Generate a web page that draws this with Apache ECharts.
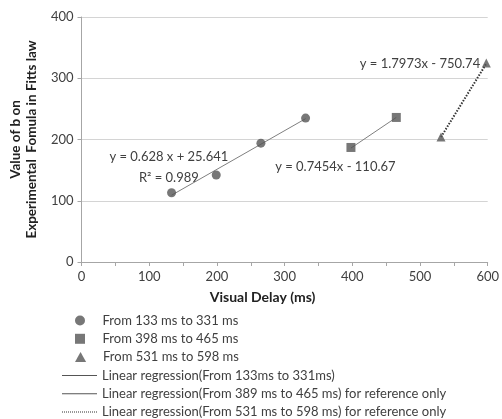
<!DOCTYPE html>
<html>
<head>
<meta charset="utf-8">
<script src="https://cdn.jsdelivr.net/npm/echarts@6/dist/echarts.min.js"></script>
<style>
  html, body { margin: 0; padding: 0; background: #fff; }
  #chart { width: 502px; height: 419px; }
</style>
</head>
<body>
<div id="chart"></div>
<script>
var chart = echarts.init(document.getElementById('chart'));

// measured points (visual delay ms, value of b)
var group1 = [[133, 113], [199, 142], [265, 194], [331, 235]];
var group2 = [[398, 187], [465, 236]];
var group3 = [[531, 204], [598, 325]];
// regression line end points
var fit1 = [[133, 109], [331, 234]];
var fit2 = [[398, 186], [465, 236]];
var fit3 = [[531, 204], [598, 324]];

var names = [
    'From 133 ms to 331 ms',
    'From 398 ms to 465 ms',
    'From 531 ms to 598 ms',
    'Linear regression(From 133ms to 331ms)',
    'Linear regression(From 389 ms to 465 ms) for reference only',
    'Linear regression(From 531 ms to 598 ms) for reference only'
];
var xTicks = [0, 100, 200, 300, 400, 500, 600];
var yTicks = [0, 100, 200, 300, 400];

var fontName = 'Lato';
var txt = '#404040';
var markerColor = '#555555';

// legend icons (aspect kept, so squares stay square)
var squareIcon = 'path://M0,0L10,0L10,10L0,10Z';
var triIcon = 'path://M5,0L10,9L0,9Z';
var solidLineIcon = 'path://M0,0L70,0L70,2L0,2Z';
var dotLineIcon = 'path://';
for (var i = 0; i < 35; i += 2) {
    dotLineIcon += 'M' + i + ',0h1v1h-1Z';
}
var legendIcons = ['circle', squareIcon, triIcon, solidLineIcon, solidLineIcon, dotLineIcon];
var legendColors = [markerColor, markerColor, markerColor, '#555', '#555', '#333'];

function eqLabel(coord, text) {
    return {
        coord: coord,
        symbol: 'circle',
        symbolSize: 0,
        label: {
            show: true,
            position: 'inside',
            formatter: text,
            color: txt,
            fontFamily: fontName,
            fontSize: 13
        }
    };
}

// one legend row per entry so nothing wraps into a second column
var legends = [];
for (var k = 0; k < names.length; k++) {
    legends.push({
        orient: 'horizontal',
        left: k < 3 ? 75 : 62,   // marker icons are drawn narrower, nudge them to line up
        top: 314 + k * 18.3,
        padding: 0,
        itemWidth: 35,
        itemHeight: 10,
        symbolKeepAspect: true,
        textStyle: { color: txt, fontSize: 13, fontFamily: fontName },
        data: [{ name: names[k], icon: legendIcons[k], itemStyle: { color: legendColors[k] } }]
    });
}

var option = {
    animation: false,
    textStyle: { fontFamily: fontName },
    grid: { left: 78, right: 10, top: 17, bottom: 157 },
    xAxis: {
        type: 'value',
        min: 0, max: 600, interval: 50,
        name: 'Visual Delay (ms)',
        nameLocation: 'middle',
        nameGap: 28,
        nameTextStyle: {
            color: '#222', fontWeight: 'bold', fontSize: 14, fontFamily: fontName,
            padding: [0, 44, 0, 0]
        },
        axisLine: { lineStyle: { color: '#a6a6a6' } },
        axisTick: { show: true, length: 4, lineStyle: { color: '#a6a6a6' } },
        axisLabel: {
            color: txt, fontSize: 13, fontFamily: fontName, margin: 8,
            formatter: function (v) { return xTicks.indexOf(v) >= 0 ? String(v) : ''; }
        },
        splitLine: { show: false }
    },
    yAxis: {
        type: 'value',
        min: 0, max: 400, interval: 100,
        name: 'Value of b on\nExperimental  Fomula in Fitts law',
        nameLocation: 'middle',
        nameGap: 40,
        nameTextStyle: { color: '#222', fontWeight: 'bold', fontSize: 13.5, fontFamily: fontName, lineHeight: 16 },
        axisLine: { show: true, lineStyle: { color: '#a6a6a6' } },
        axisTick: { show: true, length: 4, lineStyle: { color: '#a6a6a6' } },
        axisLabel: {
            color: txt, fontSize: 13, fontFamily: fontName, margin: 8,
            formatter: function (v) { return yTicks.indexOf(v) >= 0 ? String(v) : ''; }
        },
        splitLine: { lineStyle: { color: '#d4d4d4' } }
    },
    legend: legends,
    series: [
        {
            name: names[0], type: 'scatter', data: group1,
            symbol: 'circle', symbolSize: 9,
            itemStyle: { color: markerColor }, z: 5
        },
        {
            name: names[1], type: 'scatter', data: group2,
            symbol: 'rect', symbolSize: 9,
            itemStyle: { color: markerColor }, z: 5
        },
        {
            name: names[2], type: 'scatter', data: group3,
            symbol: 'triangle', symbolSize: 9,
            itemStyle: { color: markerColor }, z: 5
        },
        {
            name: names[3], type: 'line', data: fit1,
            showSymbol: false, symbol: 'none',
            lineStyle: { color: '#7f7f7f', width: 1 },
            itemStyle: { color: '#7f7f7f' },
            markPoint: {
                data: [
                    eqLabel([129, 171], 'y = 0.628 x + 25.641'),
                    eqLabel([129, 138], 'R² = 0.989')
                ]
            }
        },
        {
            name: names[4], type: 'line', data: fit2,
            showSymbol: false, symbol: 'none',
            lineStyle: { color: '#7f7f7f', width: 1 },
            itemStyle: { color: '#7f7f7f' },
            markPoint: {
                data: [eqLabel([375, 155], 'y = 0.7454x - 110.67')]
            }
        },
        {
            name: names[5], type: 'line', data: fit3,
            showSymbol: false, symbol: 'none',
            lineStyle: { color: '#333333', width: 2, type: [1.5, 1.5] },
            itemStyle: { color: '#333333' },
            markPoint: {
                data: [eqLabel([500, 323], 'y = 1.7973x - 750.74')]
            }
        }
    ]
};
chart.setOption(option);
window.onresize = chart.resize;
</script>
</body>
</html>
